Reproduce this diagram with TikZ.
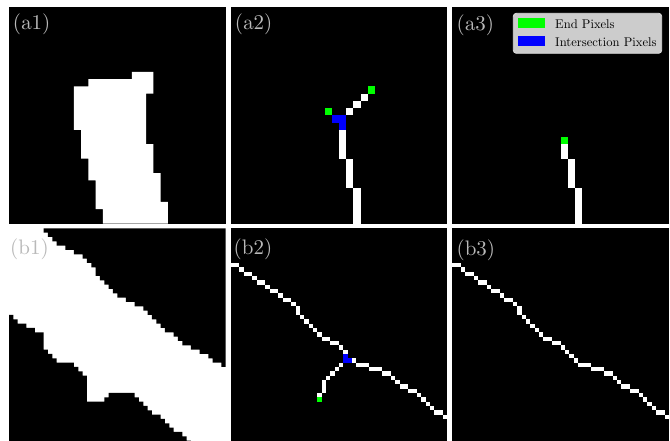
\documentclass[tikz,border=0pt]{standalone}
\definecolor{pixgreen}{RGB}{0,255,0}
\definecolor{pixblue}{RGB}{0,0,255}
\definecolor{legfill}{RGB}{204,204,204}
\definecolor{legline}{RGB}{220,220,220}
\definecolor{labgray}{RGB}{185,185,185}
\font\panelfont=cmr10 at 21pt
\font\legendfont=cmr10 at 12.6pt
% skeleton runs (col/row/width/height) of the long branch
\newcommand{\skelmain}{0/8/2/1, 2/9/1/1, 3/10/2/1, 5/11/1/1, 6/12/2/1, 8/13/1/1, 9/14/2/1, 11/15/1/1,
  12/16/2/1, 14/17/1/1, 15/18/1/2, 16/20/1/1, 17/21/1/1, 18/22/1/1, 19/23/1/1, 20/24/1/1, 21/25/2/1,
  23/26/2/1, 25/27/1/1, 26/28/1/1, 28/30/1/1, 29/31/3/1, 32/32/3/1, 35/33/2/1, 37/34/1/1, 38/35/1/1,
  39/36/2/1, 41/37/2/1, 43/38/1/1, 44/39/1/1, 45/40/1/1, 46/41/1/1, 47/42/2/1, 49/43/1/1}
\begin{document}
\begin{tikzpicture}[x=1pt, y=-1pt,
    lbl/.style={anchor=north west, inner sep=0pt, text=labgray, font=\panelfont},
    legtxt/.style={anchor=base west, inner sep=0pt, font=\legendfont},
    patch/.style={minimum width=27.3pt, minimum height=10pt, inner sep=0pt}]
  \useasboundingbox (0,0) rectangle (670,441);
  \clip (0,0) rectangle (670,441);
  \fill[white] (0,0) rectangle (670,441);

  % (a1) binary mask
  \begin{scope}[shift={(9,7)}, x=7.222pt, y=-7.222pt]
    \fill[black] (0,0) rectangle (30,30);
    \fill[white] (17,9) -- (20,9) -- (20,12) -- (19,12) -- (19,19) -- (20,19) -- (20,23) -- (21,23)
      -- (21,27) -- (22,27) -- (22,30) -- (13,30) -- (13,28) -- (12,28) -- (12,24) -- (11,24)
      -- (11,21) -- (10,21) -- (10,17) -- (9,17) -- (9,11) -- (11,11) -- (11,10) -- (17,10) -- cycle;
  \end{scope}

  % (a2) skeleton with end and intersection pixels
  \begin{scope}[shift={(230.7,7)}, x=7.222pt, y=-7.222pt]
    \fill[black] (0,0) rectangle (30,30);
    \foreach \c/\r/\w/\h in {16/14/1/1, 17/13/1/1, 18/12/1/1, 15/17/1/4, 16/21/1/4, 17/25/1/5}
      \fill[white] (\c,\r) rectangle ++(\w,\h);
    \foreach \c/\r in {13/14, 19/11}
      \fill[pixgreen] (\c,\r) rectangle ++(1,1);
    \fill[pixblue] (14,15) rectangle ++(2,1);
    \fill[pixblue] (15,16) rectangle ++(1,1);
  \end{scope}

  % (a3) pruned skeleton
  \begin{scope}[shift={(452.4,7)}, x=7.222pt, y=-7.222pt]
    \fill[black] (0,0) rectangle (30,30);
    \foreach \c/\r/\w/\h in {15/19/1/2, 16/21/1/4, 17/25/1/5}
      \fill[white] (\c,\r) rectangle ++(\w,\h);
    \fill[pixgreen] (15,18) rectangle ++(1,1);
  \end{scope}

  % (b1) binary mask
  \begin{scope}[shift={(9,228.3)}, x=4.333pt, y=-4.333pt]
    \fill[white] (0,0) rectangle (50,50);
    \fill[black] (8,0) \foreach \c [count=\r] in {8,9,10,11,13,15,17,18,19,20,20,21,22,23,24,25,
        27,29,31,32,33,34,35,36,38,39,40,42,44,46,47,49} { -- (\c,\r-1) -- (\c,\r) }
      -- (50,32) -- (50,0) -- cycle;
    \fill[black] (0,20) -- (1,20) -- (1,21) -- (2,21) -- (2,22) -- (4,22) -- (4,23) -- (6,23)
      -- (6,24) -- (8,24) -- (8,28) -- (9,28) -- (9,29) -- (10,29) -- (10,30) -- (11,30) -- (11,31)
      -- (15,31) -- (15,32) -- (16,32) -- (16,33) -- (17,33) -- (17,34) -- (18,34) -- (18,40)
      -- (22,40) -- (22,39) -- (23,39) -- (23,38) -- (29,38) -- (29,39) -- (30,39) -- (30,40)
      -- (31,40) -- (31,41) -- (32,41) -- (32,42) -- (33,42) -- (33,43) -- (35,43) -- (35,44)
      -- (36,44) -- (36,45) -- (37,45) -- (37,46) -- (38,46) -- (38,47) -- (40,47) -- (40,48)
      -- (41,48) -- (41,49) -- (42,49) -- (42,50) -- (0,50) -- cycle;
  \end{scope}

  % (b2) skeleton with spur
  \begin{scope}[shift={(230.7,228.3)}, x=4.333pt, y=-4.333pt]
    \fill[black] (0,0) rectangle (50,50);
    \foreach \c/\r/\w/\h in \skelmain
      \fill[white] (\c,\r) rectangle ++(\w,\h);
    \foreach \c/\r/\w/\h in {25/31/1/1, 24/32/1/1, 23/33/1/1, 22/34/1/1, 21/35/1/3, 20/38/1/1}
      \fill[white] (\c,\r) rectangle ++(\w,\h);
    \fill[pixgreen] (20,39) rectangle ++(1,1);
    \fill[pixblue] (26,29) rectangle ++(1,2);
    \fill[pixblue] (27,30) rectangle ++(1,1);
  \end{scope}

  % (b3) pruned skeleton
  \begin{scope}[shift={(452.4,228.3)}, x=4.333pt, y=-4.333pt]
    \fill[black] (0,0) rectangle (50,50);
    \foreach \c/\r/\w/\h in \skelmain
      \fill[white] (\c,\r) rectangle ++(\w,\h);
    \fill[white] (27,29) rectangle ++(1,1);
  \end{scope}

  % panel labels
  \node[lbl] (la1) at (12.7,13.5) {(a1)};
  \node[lbl] (la2) at (234.7,13.5) {(a2)};
  \node[lbl] (la3) at (456.4,14.5) {(a3)};
  \node[lbl] (lb1) at (10,238.3) {(b1)};
  \node[lbl] (lb2) at (233.5,238.3) {(b2)};
  \node[lbl] (lb3) at (456.4,239.5) {(b3)};

  % legend
  \node[draw=legline, fill=legfill, rounded corners=3pt, line width=0.8pt, minimum width=148.4pt,
    minimum height=40pt, inner sep=0pt] (legend) at (587.5,33.3) {};
  \node[patch, fill=pixgreen] (endpatch) at (531.4,23.3) {};
  \node[patch, fill=pixblue] (crosspatch) at (531.4,41) {};
  \node[legtxt] (endtxt) at (555,28.3) {End Pixels};
  \node[legtxt] (crosstxt) at (555,46.5) {Intersection Pixels};
\end{tikzpicture}
\end{document}
